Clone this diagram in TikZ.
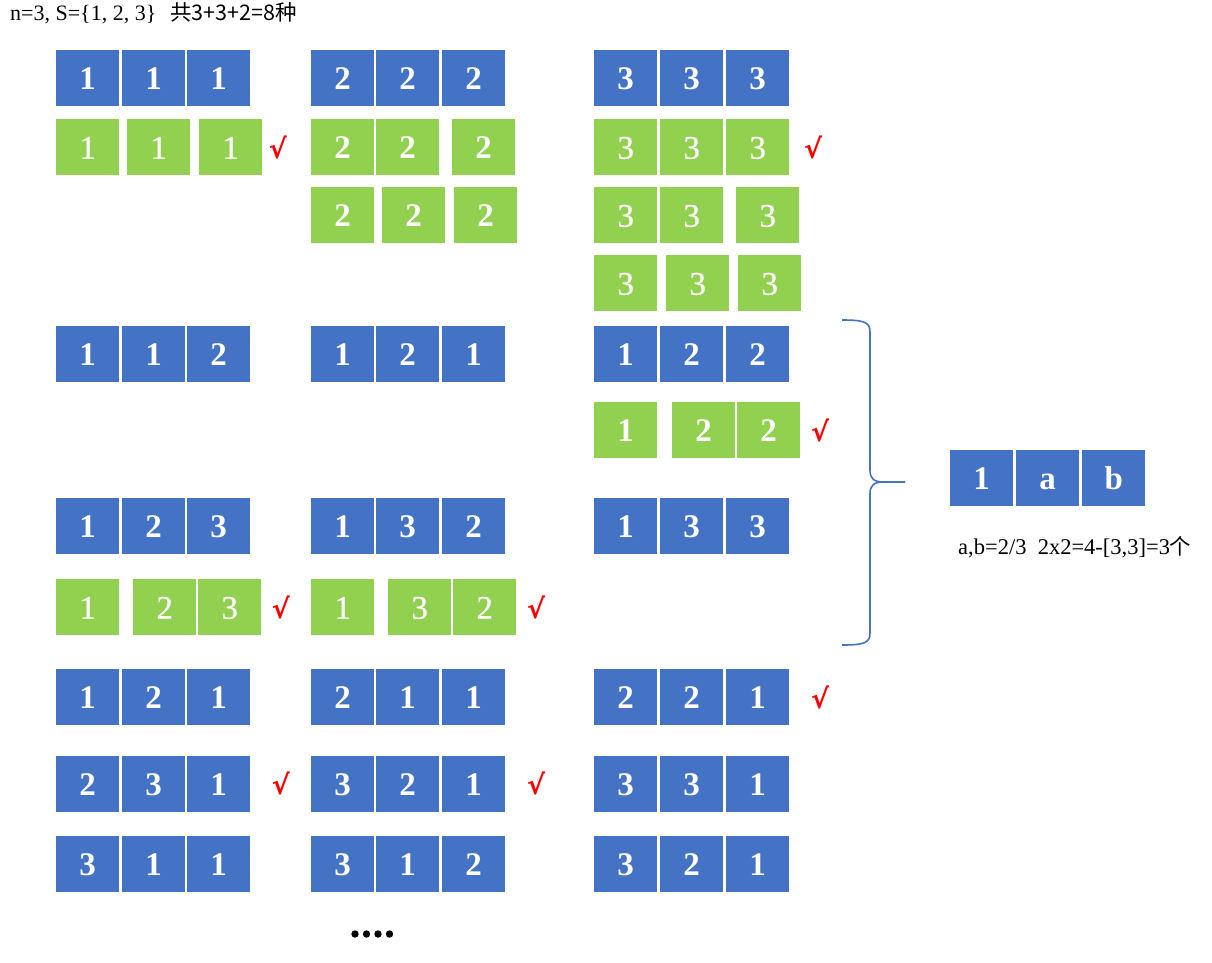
\documentclass[tikz,border=0pt]{standalone}
\usepackage{fontspec}
\setmainfont{Liberation Serif}
\newfontfamily\cjk{Noto Sans CJK SC}
\newfontfamily\dv{DejaVu Sans}
\newfontfamily\greenfont{Liberation Serif}[FakeBold=0.6]
\definecolor{bxblue}{HTML}{4472C4}
\definecolor{bxgreen}{HTML}{92D050}
\definecolor{ckred}{HTML}{FF0000}
\tikzset{
  cell/.style={anchor=north west, minimum width=63pt, minimum height=56pt, inner sep=0pt, text height=23pt, text depth=0pt, text=white, font=\fontsize{33}{33}\selectfont},
  bluecell/.style={cell, fill=bxblue, font=\fontsize{33}{33}\selectfont\bfseries},
  greencell/.style={cell, fill=bxgreen, font=\greenfont\fontsize{33}{33}\selectfont},
  greenbold/.style={cell, fill=bxgreen, font=\fontsize{33}{33}\selectfont\bfseries},
  chk/.style={text=ckred, inner sep=0pt, font=\dv\bfseries\fontsize{27}{27}\selectfont},
  brace/.style={draw=bxblue, line width=1.6pt},
}
\newcommand\trip[9]{%
  \node[#2] (#1a) at (#4,#3) {#7};
  \node[#2] (#1b) at (#5,#3) {#8};
  \node[#2] (#1c) at (#6,#3) {#9};}
\begin{document}
\begin{tikzpicture}[x=1pt,y=-1pt]
\useasboundingbox (0,0) rectangle (1212,963);
% title
\node[anchor=base west, inner sep=0pt, font=\fontsize{22}{22}\selectfont] (t1) at (10,21) {n=3, S=\{1, 2, 3\}};
\node[anchor=base west, inner sep=0pt, font=\cjk\fontsize{21.5}{21.5}\selectfont] (t2) at (170,21) {共3+3+2=8种};
% row 1
\trip{ra}{bluecell}{50}{56}{122}{187}{1}{1}{1}
\trip{rb}{bluecell}{50}{311}{376}{442}{2}{2}{2}
\trip{rc}{bluecell}{50}{594}{660}{726}{3}{3}{3}
% row 2
\trip{sa}{greencell}{119}{56}{127}{199}{1}{1}{1}
\node[chk] (ksa) at (278,147) {√};
\trip{sb}{greenbold}{119}{311}{376}{452}{2}{2}{2}
\trip{sc}{greencell}{119}{594}{660}{726}{3}{3}{3}
\node[chk] (ksc) at (813,147) {√};
% row 3
\trip{tb}{greenbold}{187}{311}{382}{454}{2}{2}{2}
\trip{tc}{greencell}{187}{594}{660}{736}{3}{3}{3}
% row 4
\trip{uc}{greencell}{255}{594}{666}{738}{3}{3}{3}
% row 5
\trip{va}{bluecell}{326}{56}{122}{187}{1}{1}{2}
\trip{vb}{bluecell}{326}{311}{376}{442}{1}{2}{1}
\trip{vc}{bluecell}{326}{594}{660}{726}{1}{2}{2}
% row 6
\trip{wc}{greenbold}{402}{594}{672}{737}{1}{2}{2}
\node[chk] (kwc) at (820,430) {√};
% row 7
\trip{xa}{bluecell}{498}{56}{122}{187}{1}{2}{3}
\trip{xb}{bluecell}{498}{311}{376}{442}{1}{3}{2}
\trip{xc}{bluecell}{498}{594}{660}{726}{1}{3}{3}
% row 8
\trip{ya}{greencell}{579}{56}{133}{198}{1}{2}{3}
\node[chk] (kya) at (281,607) {√};
\trip{yb}{greencell}{579}{311}{388}{453}{1}{3}{2}
\node[chk] (kyb) at (536,607) {√};
% row 9
\trip{za}{bluecell}{669}{56}{122}{187}{1}{2}{1}
\trip{zb}{bluecell}{669}{311}{376}{442}{2}{1}{1}
\trip{zc}{bluecell}{669}{594}{660}{726}{2}{2}{1}
\node[chk] (kzc) at (820,697) {√};
% row 10
\trip{pa}{bluecell}{756}{56}{122}{187}{2}{3}{1}
\node[chk] (kpa) at (281,783) {√};
\trip{pb}{bluecell}{756}{311}{376}{442}{3}{2}{1}
\node[chk] (kpb) at (536,783) {√};
\trip{pc}{bluecell}{756}{594}{660}{726}{3}{3}{1}
% row 11
\trip{qa}{bluecell}{836}{56}{122}{187}{3}{1}{1}
\trip{qb}{bluecell}{836}{311}{376}{442}{3}{1}{2}
\trip{qc}{bluecell}{836}{594}{660}{726}{3}{2}{1}
% dots
\foreach \dx in {355,366.5,378,389.5} \fill (\dx,934) circle (3.7);
% brace
\coordinate (btop) at (842,320);
\coordinate (bbot) at (842,645);
\coordinate (btip) at (905,482);
\draw[brace] (btop) .. controls (864,320) and (870,322) .. (870,332) -- (870,470)
  .. controls (870,479) and (874,482) .. (884,482) -- (btip);
\draw[brace] (884,482) .. controls (874,482) and (870,485) .. (870,494) -- (870,633)
  .. controls (870,643) and (864,645) .. (bbot);
% right box
\trip{ab}{bluecell}{450}{950}{1016}{1082}{1}{a}{b}
\node[anchor=base west, inner sep=0pt, font=\fontsize{22.5}{22.5}\selectfont] (note) at (958,554) {a,b=2/3\ \ 2x2=4-[3,3]=3{\cjk\fontsize{21.5}{21.5}\selectfont 个}};
\end{tikzpicture}
\end{document}
